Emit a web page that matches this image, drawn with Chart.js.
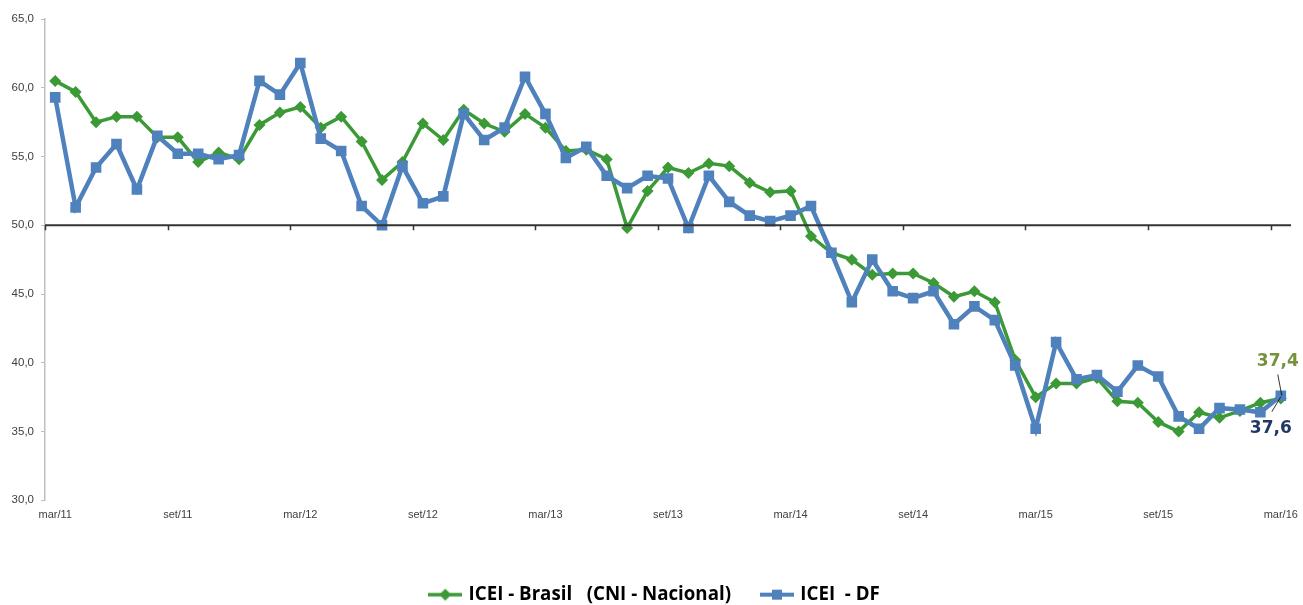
<!DOCTYPE html>
<html>
<head>
<meta charset="utf-8">
<script src="https://cdn.jsdelivr.net/npm/chart.js@4/dist/chart.umd.min.js"></script>
<style>
html,body{margin:0;padding:0;background:#fff;}
#wrap{width:1303px;height:605px;position:relative;}
</style>
</head>
<body>
<div id="wrap"><canvas id="c" width="1303" height="605"></canvas></div>
<script>
const months = ['jan','fev','mar','abr','mai','jun','jul','ago','set','out','nov','dez'];
const categories = [];
for (let y = 11; y <= 16; y++) {
  for (let m = 0; m < 12; m++) {
    if ((y === 11 && m < 2) || (y === 16 && m > 2)) continue;
    categories.push(months[m] + '/' + y);
  }
}
const seriesNames = ['ICEI - Brasil   (CNI - Nacional)', 'ICEI  - DF'];
const brasil = [60.5,59.7,57.5,57.9,57.9,56.4,56.4,54.6,55.3,54.8,57.3,58.2,58.6,57.1,57.9,56.1,53.3,54.6,57.4,56.2,
  58.4,57.4,56.8,58.1,57.1,55.4,55.5,54.8,49.8,52.5,54.2,53.8,54.5,54.3,53.1,52.4,52.5,49.2,48.0,47.5,
  46.4,46.5,46.5,45.8,44.8,45.2,44.4,40.2,37.5,38.5,38.5,38.9,37.2,37.1,35.7,35.0,36.4,36.0,36.5,37.1,37.4];
const df = [59.3,51.3,54.2,55.9,52.6,56.5,55.2,55.2,54.8,55.1,60.5,59.5,61.8,56.3,55.4,51.4,50.0,54.3,51.6,52.1,
  58.1,56.2,57.1,60.8,58.1,54.9,55.7,53.6,52.7,53.6,53.4,49.8,53.6,51.7,50.7,50.3,50.7,51.4,48.0,44.4,
  47.5,45.2,44.7,45.2,42.8,44.1,43.1,39.8,35.2,41.5,38.8,39.1,37.9,39.8,39.0,36.1,35.2,36.7,36.6,36.4,37.6];
const yTicks = [30,35,40,45,50,55,60,65];
const refLine = 50;

const GREEN = '#3B9A35', BLUE = '#4F81BD';
const fmt = v => v.toFixed(1).replace('.', ',');

function legendIcon(color, shape) {
  const c = document.createElement('canvas');
  c.width = 34; c.height = 14;
  const x = c.getContext('2d');
  x.strokeStyle = color; x.fillStyle = color;
  x.lineWidth = shape === 'rect' ? 4 : 3.5;
  x.beginPath(); x.moveTo(0, 7); x.lineTo(34, 7); x.stroke();
  x.beginPath();
  if (shape === 'rect') { x.rect(12, 2, 10, 10); }
  else { x.moveTo(17, 1); x.lineTo(23, 7); x.lineTo(17, 13); x.lineTo(11, 7); x.closePath(); }
  x.fill();
  return c;
}

const legendShift = {
  id: 'legendShift',
  afterLayout(chart) {
    if (chart.legend) { chart.legend.left += 10; chart.legend.right += 10; }
  }
};

const overlay = {
  id: 'overlay',
  afterDatasetsDraw(chart) {
    const ctx = chart.ctx, xs = chart.scales.x, ys = chart.scales.y, ca = chart.chartArea;
    const y50 = ys.getPixelForValue(refLine);
    ctx.save();
    ctx.strokeStyle = '#333333'; ctx.lineWidth = 2;
    ctx.beginPath(); ctx.moveTo(ca.left, y50); ctx.lineTo(ca.right, y50); ctx.stroke();
    const step = xs.getPixelForValue(1) - xs.getPixelForValue(0);
    ctx.lineWidth = 1.5;
    for (let i = 0; i < categories.length; i += 6) {
      const px = Math.round(xs.getPixelForValue(i) - step / 2) + 0.5;
      ctx.beginPath(); ctx.moveTo(px, y50); ctx.lineTo(px, y50 + 5); ctx.stroke();
    }
    const n = categories.length - 1;
    const lx = xs.getPixelForValue(n);
    const lyB = chart.getDatasetMeta(0).data[n].y;
    const lyD = chart.getDatasetMeta(1).data[n].y;
    ctx.font = 'bold 17px "DejaVu Sans"';
    ctx.textAlign = 'center'; ctx.textBaseline = 'middle';
    ctx.fillStyle = '#76923C';
    ctx.fillText(fmt(brasil[n]), lx - 3, lyB - 37);
    ctx.fillStyle = '#1F3864';
    ctx.fillText(fmt(df[n]), lx - 10, lyD + 33);
    ctx.strokeStyle = '#000'; ctx.lineWidth = 0.8;
    ctx.beginPath(); ctx.moveTo(lx - 3, lyB - 24); ctx.lineTo(lx + 1, lyB - 3); ctx.stroke();
    ctx.beginPath(); ctx.moveTo(lx - 9, lyD + 16); ctx.lineTo(lx, lyD + 1); ctx.stroke();
    ctx.restore();
  }
};

new Chart(document.getElementById('c'), {
  type: 'line',
  data: {
    labels: categories,
    datasets: [
      { label: seriesNames[0], data: brasil, borderColor: GREEN, backgroundColor: GREEN,
        borderWidth: 3.5, pointStyle: 'rectRot', pointRadius: 6, pointBorderWidth: 0,
        pointBackgroundColor: GREEN, tension: 0, order: 2 },
      { label: seriesNames[1], data: df, borderColor: BLUE, backgroundColor: BLUE,
        borderWidth: 4.5, pointStyle: 'rect', pointRadius: 7.5, pointBorderWidth: 0,
        pointBackgroundColor: BLUE, tension: 0, order: 1 }
    ]
  },
  options: {
    responsive: false,
    animation: false,
    events: [],
    layout: { padding: { top: 19, right: 12, left: 0, bottom: -9 } },
    plugins: {
      tooltip: { enabled: false },
      legend: {
        position: 'bottom',
        labels: {
          usePointStyle: true,
          pointStyleWidth: 28,
          padding: 32,
          color: '#000',
          font: { family: 'Open Sans', size: 18.7, weight: 'bold' },
          generateLabels(chart) {
            return chart.data.datasets.map((d, i) => ({
              text: d.label,
              pointStyle: legendIcon(d.borderColor, i === 0 ? 'rectRot' : 'rect'),
              fillStyle: d.borderColor, strokeStyle: d.borderColor, lineWidth: 0,
              datasetIndex: i, hidden: false, fontColor: '#000'
            }));
          }
        }
      }
    },
    scales: {
      x: {
        offset: true,
        grid: { display: false },
        border: { display: false },
        afterFit: s => { s.height = 53; },
        ticks: {
          autoSkip: false, maxRotation: 0, minRotation: 0, padding: 0,
          color: '#404040', font: { family: 'Liberation Sans', size: 11 },
          callback: (v, i) => (i % 6 === 0 ? categories[i] : '')
        }
      },
      y: {
        min: yTicks[0], max: yTicks[yTicks.length - 1],
        afterBuildTicks: s => { s.ticks = yTicks.map(v => ({ value: v })); },
        afterFit: s => { s.width = 45; },
        grid: { drawOnChartArea: false, drawTicks: true, tickLength: 4, color: '#BFBFBF' },
        border: { display: true, color: '#BFBFBF', width: 1.5 },
        ticks: {
          padding: 7, color: '#404040', font: { family: 'Liberation Sans', size: 11.5 },
          callback: v => fmt(v)
        }
      }
    }
  },
  plugins: [legendShift, overlay]
});
</script>
</body>
</html>
